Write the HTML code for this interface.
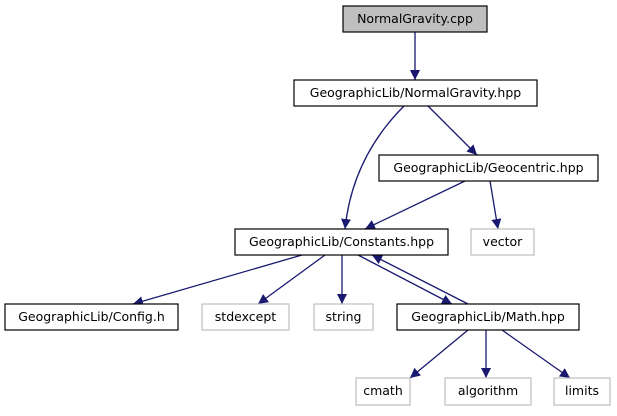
<!DOCTYPE html>
<html><head><meta charset="utf-8"><style>
html,body{margin:0;padding:0;background:#fff;}
text{font-family:"DejaVu Sans","Liberation Sans",sans-serif;font-size:12.5px;fill:#000;}
</style></head><body>
<svg width="617" height="411" viewBox="0 0 617 411" xmlns="http://www.w3.org/2000/svg">
<defs>
<marker id="a" viewBox="0 0 10 10" refX="10" refY="5" markerWidth="10" markerHeight="10" markerUnits="userSpaceOnUse" orient="auto">
<path d="M0,0 L10,5 L0,10 z" fill="#191970"/>
</marker>
</defs>
<g stroke="#191970" stroke-width="1.3" fill="none" marker-end="url(#a)">
<path d="M415,32 L415,80"/>
<path d="M404,106 C370,140 350,180 345,229"/>
<path d="M428,106 L477,155"/>
<path d="M465,181 L365,229"/>
<path d="M490,181 L498,229"/>
<path d="M302,255 L133,304"/>
<path d="M325,255 L258,304"/>
<path d="M342,255 L342,304"/>
<path d="M358,255 L452,304"/>
<path d="M468,304 L372,255"/>
<path d="M468,330 L410,378"/>
<path d="M486,330 L486,378"/>
<path d="M502,330 L570,378"/>
</g>
<g stroke-width="1.2">
<rect x="343" y="6" width="144" height="26" fill="#bfbfbf" stroke="#000"/>
<rect x="294" y="80" width="243" height="26" fill="#fff" stroke="#000"/>
<rect x="379" y="155" width="219" height="26" fill="#fff" stroke="#000"/>
<rect x="235" y="229" width="213" height="26" fill="#fff" stroke="#000"/>
<rect x="471" y="229" width="63" height="26" fill="#fff" stroke="#bfbfbf"/>
<rect x="5" y="304" width="173" height="26" fill="#fff" stroke="#000"/>
<rect x="202" y="304" width="87" height="26" fill="#fff" stroke="#bfbfbf"/>
<rect x="314" y="304" width="59" height="26" fill="#fff" stroke="#bfbfbf"/>
<rect x="397" y="304" width="182" height="26" fill="#fff" stroke="#000"/>
<rect x="356" y="378" width="54" height="27" fill="#fff" stroke="#bfbfbf"/>
<rect x="445" y="378" width="86" height="27" fill="#fff" stroke="#bfbfbf"/>
<rect x="554" y="378" width="56" height="27" fill="#fff" stroke="#bfbfbf"/>
</g>
<g text-anchor="middle">
<text x="415" y="23">NormalGravity.cpp</text>
<text x="415.5" y="97">GeographicLib/NormalGravity.hpp</text>
<text x="488.5" y="172">GeographicLib/Geocentric.hpp</text>
<text x="341.5" y="246">GeographicLib/Constants.hpp</text>
<text x="502.5" y="246">vector</text>
<text x="91.5" y="321">GeographicLib/Config.h</text>
<text x="245.5" y="321">stdexcept</text>
<text x="343.5" y="321">string</text>
<text x="488" y="321">GeographicLib/Math.hpp</text>
<text x="383" y="395">cmath</text>
<text x="488" y="395">algorithm</text>
<text x="582" y="395">limits</text>
</g>
</svg>
</body></html>
